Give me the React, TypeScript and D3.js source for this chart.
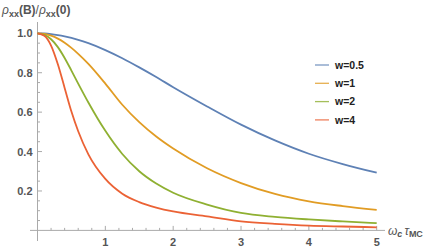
import React from 'react'
import * as d3 from 'd3'

// omega_c * tau_MC sample points
const xs = [0, 0.1, 0.2, 0.3, 0.4, 0.5, 0.6, 0.75, 1, 1.25, 1.5, 1.75, 2, 2.5, 3, 3.5, 4, 4.5, 5]

// rho_xx(B)/rho_xx(0)
const w05 = [1, 0.999, 0.996, 0.991, 0.9845, 0.9765, 0.967, 0.95, 0.915, 0.8735, 0.827, 0.778, 0.7265, 0.629, 0.5365, 0.4565, 0.389, 0.3365, 0.2925]
const w1 = [1, 0.997, 0.988, 0.973, 0.952, 0.926, 0.896, 0.845, 0.745, 0.6375, 0.549, 0.476, 0.415, 0.315, 0.24, 0.185, 0.1475, 0.1235, 0.1045]
const w2 = [1, 0.992, 0.97, 0.93, 0.875, 0.811, 0.745, 0.649, 0.505, 0.3875, 0.3, 0.2375, 0.191, 0.131, 0.0885, 0.0685, 0.0555, 0.0455, 0.037]
const w4 = [1, 0.988, 0.938, 0.843, 0.723, 0.603, 0.503, 0.386, 0.261, 0.186, 0.1435, 0.116, 0.096, 0.071, 0.046, 0.0335, 0.0245, 0.0198, 0.0158]

const seriesNames = ['w=0.5', 'w=1', 'w=2', 'w=4']
const seriesValues = [w05, w1, w2, w4]
const colors = ['#5E81B5', '#E19C24', '#8FB032', '#EB6235']

const xTicks = [1, 2, 3, 4, 5]
const yTicks = [0.2, 0.4, 0.6, 0.8, 1.0]

const W = 436
const H = 252

export default function App() {
    const x = d3.scaleLinear().domain([0, 5]).range([37.5, 376.7])
    const y = d3.scaleLinear().domain([0, 1]).range([230.4, 33.3])

    const line = d3.line<number>()
        .x((d, i) => x(xs[i]))
        .y(d => y(d))
        .curve(d3.curveMonotoneX)

    const xMinor = d3.range(0, 5.001, 0.2)
    const yMinor = d3.range(0.05, 1.001, 0.05)

    const axisColor = '#aaaaaa'
    const labelColor = '#555555'
    const font = 'Liberation Sans, Arial, sans-serif'

    return (
        <svg width={W} height={H} style={{position: 'absolute', left: 0, top: 0, display: 'block'}}
            fontFamily={font}>
            <rect width={W} height={H} fill="white" />

            {/* axes */}
            <line x1={30} x2={385} y1={y(0)} y2={y(0)} stroke={axisColor} strokeWidth={1} />
            <line x1={x(0)} x2={x(0)} y1={22} y2={241} stroke={axisColor} strokeWidth={1} />

            {/* x ticks, pointing up */}
            {xMinor.map((t, i) => {
                const major = Math.abs(t - Math.round(t)) < 1e-6 && t > 0
                return <line key={'xm' + i} x1={x(t)} x2={x(t)} y1={y(0)} y2={y(0) - (major ? 4.5 : 2.5)}
                    stroke={axisColor} strokeWidth={1} />
            })}
            {xTicks.map(t => (
                <text key={'xl' + t} x={x(t)} y={246} textAnchor="middle" fontSize={11}
                    fontWeight="bold" fill={labelColor}>{t}</text>
            ))}

            {/* y ticks, pointing right */}
            {yMinor.map((t, i) => {
                const major = Math.abs(t * 5 - Math.round(t * 5)) < 1e-6
                return <line key={'ym' + i} x1={x(0)} x2={x(0) + (major ? 4.5 : 2.5)} y1={y(t)} y2={y(t)}
                    stroke={axisColor} strokeWidth={1} />
            })}
            {yTicks.map(t => (
                <text key={'yl' + t} x={32.5} y={y(t) + 4} textAnchor="end" fontSize={11}
                    fontWeight="bold" fill={labelColor}>{t.toFixed(1)}</text>
            ))}

            {/* curves */}
            {seriesValues.map((vals, i) => (
                <path key={'s' + i} d={line(vals) || ''} fill="none" stroke={colors[i]} strokeWidth={1.8} />
            ))}

            {/* legend */}
            {seriesNames.map((name, i) => (
                <g key={'lg' + i} transform={`translate(315, ${65 + i * 18.3})`}>
                    <line x1={0} x2={14} y1={0} y2={0} stroke={colors[i]} strokeWidth={1.3} opacity={0.8} />
                    <text x={20} y={3.8} fontSize={10.5} fontWeight="bold" fill="#222">{name}</text>
                </g>
            ))}

            {/* axis labels */}
            <text x={2} y={14} fontSize={12} fill={labelColor}>
                <tspan fontStyle="italic">ρ</tspan>
                <tspan fontSize={9} fontWeight="bold" dy={3}>xx</tspan>
                <tspan dy={-3} fontWeight="bold">(B)</tspan>
                <tspan>/</tspan>
                <tspan fontStyle="italic">ρ</tspan>
                <tspan fontSize={9} fontWeight="bold" dy={3}>xx</tspan>
                <tspan dy={-3} fontWeight="bold">(0)</tspan>
            </text>
            <text x={388} y={235} fontSize={12} fill={labelColor}>
                <tspan fontStyle="italic">ω</tspan>
                <tspan fontSize={9} fontWeight="bold" fontStyle="italic" dy={2}>c</tspan>
                <tspan dy={-2} dx={2} fontStyle="italic">τ</tspan>
                <tspan fontSize={9} fontWeight="bold" dy={2}>MC</tspan>
            </text>
        </svg>
    )
}
